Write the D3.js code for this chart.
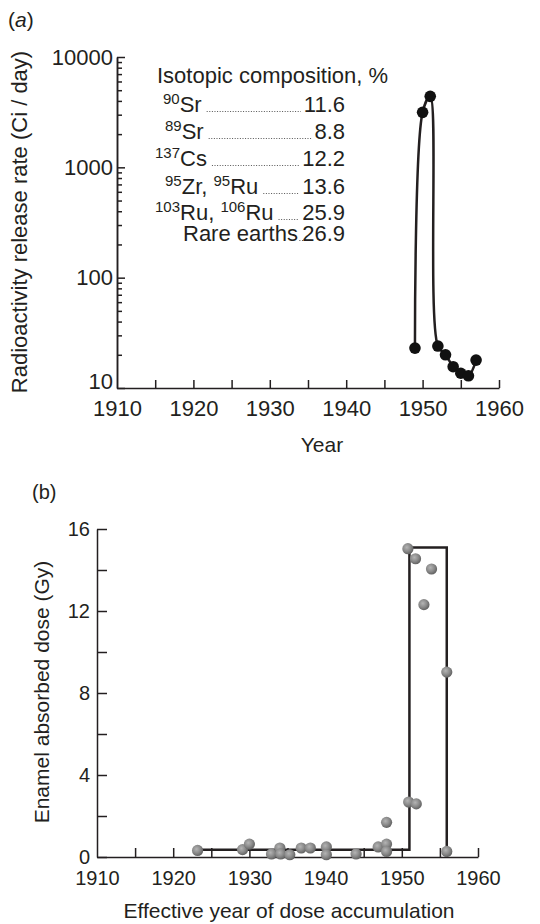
<!DOCTYPE html>
<html>
<head>
<meta charset="utf-8">
<script src="https://cdn.jsdelivr.net/npm/d3@7"></script>
<style>
  html, body { margin: 0; padding: 0; background: #fff; }
  svg { display: block; font-family: "Liberation Sans", Arial, Helvetica, sans-serif; }
  .axis path, .axis line { stroke: #231f20; stroke-width: 1.5px; }
  .axis text { fill: #231f20; }
</style>
</head>
<body>
<svg id="chart" width="540" height="924"></svg>
<script>
// ---- panel (a): release rate, Ci/day ----
const releaseYears = [1949, 1950, 1951, 1952, 1953, 1954, 1955, 1956, 1957];
const releaseRates = [23, 3150, 4400, 24, 20, 15.6, 13.6, 12.9, 17.9];
const logTicks = [10, 100, 1000, 10000];
const yearTicks = [1910, 1920, 1930, 1940, 1950, 1960];

// isotopic composition table, {..} = superscript
const isotopeLabels = ["{90}Sr", "{89}Sr", "{137}Cs", "{95}Zr, {95}Ru", "{103}Ru, {106}Ru", "Rare earths"];
const isotopeShares = [11.6, 8.8, 12.2, 13.6, 25.9, 26.9];

// ---- panel (b): enamel dose, Gy ----
const doseYears = [1923.2, 1929.1, 1930.0, 1932.9, 1934.0, 1934.1, 1935.3, 1936.8, 1938.0,
                   1940.1, 1940.1, 1944.0, 1946.9, 1948.0, 1948.0, 1948.0,
                   1950.9, 1951.9, 1950.8, 1951.8, 1952.9, 1953.9, 1955.9, 1955.9];
const doseValues = [0.32, 0.36, 0.63, 0.15, 0.44, 0.15, 0.11, 0.44, 0.44,
                    0.49, 0.11, 0.15, 0.49, 0.63, 0.27, 1.69,
                    2.68, 2.59, 15.04, 14.55, 12.31, 14.05, 9.02, 0.27];
const stepYears = [1923.2, 1951, 1951, 1955.9, 1955.9];
const stepValues = [0.35, 0.35, 15.1, 15.1, 0];
const doseTicks = [0, 4, 8, 12, 16];

const ink = "#231f20";
const svg = d3.select("#chart");

// ================= panel (a) =================
const xa = d3.scaleLinear().domain([1910, 1960]).range([117, 499]);
const ya = d3.scaleLog().domain([10, 10000]).range([388, 57]);

svg.append("text").attr("x", 8).attr("y", 27).attr("font-size", 21).attr("fill", ink)
  .html('(<tspan font-style="italic">a</tspan>)');

// minor log ticks
const minorLog = [];
[10, 100, 1000].forEach(d => { for (let k = 2; k <= 9; k++) minorLog.push(d * k); });

svg.append("g").attr("class", "axis").attr("transform", `translate(${xa(1910)},0)`)
  .call(d3.axisLeft(ya).tickValues(minorLog).tickSize(-5).tickSizeOuter(0).tickFormat(""));
svg.append("g").attr("class", "axis").attr("transform", `translate(${xa(1910)},0)`)
  .call(d3.axisLeft(ya).tickValues(logTicks).tickSize(-8).tickSizeOuter(0).tickPadding(4)
    .tickFormat(d3.format("d")))
  .call(g => g.selectAll("text").attr("font-size", 22).attr("font-family", null))
  .call(g => g.selectAll(".tick").filter(d => d === 10).select("text").attr("dy", "0.02em"));

svg.append("g").attr("class", "axis").attr("transform", `translate(0,${ya(10)})`)
  .call(d3.axisBottom(xa).tickValues(d3.range(1915, 1961, 5)).tickSize(-8).tickSizeOuter(0).tickFormat(""));
svg.append("g").attr("class", "axis").attr("transform", `translate(0,${ya(10)})`)
  .call(d3.axisBottom(xa).tickValues(yearTicks).tickSize(0).tickSizeOuter(0).tickPadding(12)
    .tickFormat(d3.format("d")))
  .call(g => g.select(".domain").remove())
  .call(g => g.selectAll("text").attr("font-size", 22).attr("font-family", null));

svg.append("text").attr("transform", "translate(27,222) rotate(-90)")
  .attr("text-anchor", "middle").attr("font-size", 22).attr("fill", ink)
  .text("Radioactivity release rate (Ci / day)");
svg.append("text").attr("x", 322).attr("y", 452).attr("text-anchor", "middle")
  .attr("font-size", 21).attr("fill", ink).text("Year");

// composition table
svg.append("text").attr("x", 157).attr("y", 83).attr("font-size", 22).attr("fill", ink)
  .text("Isotopic composition, %");
const rowY = [112, 139, 166, 194, 220, 241];
const rowX = [163, 165, 155, 165, 155, 183];
const valueRight = 345;
isotopeLabels.forEach((lab, i) => {
  const t = svg.append("text").attr("x", rowX[i]).attr("y", rowY[i])
    .attr("font-size", 22).attr("fill", ink);
  let raised = false;
  lab.split(/(\{[^}]+\})/).filter(s => s.length).forEach(part => {
    if (part[0] === "{") {
      t.append("tspan").attr("font-size", 15).attr("dy", -8).text(part.slice(1, -1));
      raised = true;
    } else {
      t.append("tspan").attr("dy", raised ? 8 : 0).text(part);
      raised = false;
    }
  });
  const labelEnd = rowX[i] + t.node().getComputedTextLength();
  const v = svg.append("text").attr("x", valueRight).attr("y", rowY[i])
    .attr("text-anchor", "end").attr("font-size", 22).attr("fill", ink)
    .text(isotopeShares[i].toFixed(1));
  const valueStart = valueRight - v.node().getComputedTextLength();
  svg.append("line").attr("x1", labelEnd + 5).attr("x2", valueStart - 3)
    .attr("y1", rowY[i] - 0.5).attr("y2", rowY[i] - 0.5)
    .attr("stroke", "#555").attr("stroke-width", 1).attr("stroke-dasharray", "1,1.6");
});

// release curve
const releaseLine = d3.line()
  .x((d, i) => xa(releaseYears[i]))
  .y(d => ya(d))
  .curve(d3.curveCatmullRom.alpha(0.5));
svg.append("path").datum(releaseRates).attr("d", releaseLine)
  .attr("fill", "none").attr("stroke", ink).attr("stroke-width", 2.5);
svg.append("g").selectAll("circle").data(releaseRates).join("circle")
  .attr("cx", (d, i) => xa(releaseYears[i])).attr("cy", d => ya(d))
  .attr("r", 5.8).attr("fill", "#111");

// ================= panel (b) =================
const xb = d3.scaleLinear().domain([1910, 1960]).range([97, 478]);
const yb = d3.scaleLinear().domain([0, 16]).range([857, 529]);

svg.append("text").attr("x", 32).attr("y", 499).attr("font-size", 20).attr("fill", ink).text("(b)");

svg.append("g").attr("class", "axis").attr("transform", `translate(${xb(1910)},0)`)
  .call(d3.axisLeft(yb).tickValues(d3.range(0, 17, 2)).tickSize(-10).tickSizeOuter(0)
    .tickPadding(7).tickFormat(d => doseTicks.includes(d) ? d : ""))
  .call(g => g.selectAll("text").attr("font-size", 20).attr("font-family", null));

svg.append("g").attr("class", "axis").attr("transform", `translate(0,${yb(0)})`)
  .call(d3.axisBottom(xb).tickValues(d3.range(1915, 1961, 5)).tickSize(-9).tickSizeOuter(0).tickFormat(""));
svg.append("g").attr("class", "axis").attr("transform", `translate(0,${yb(0)})`)
  .call(d3.axisBottom(xb).tickValues(yearTicks).tickSize(0).tickSizeOuter(0).tickPadding(14)
    .tickFormat(d3.format("d")))
  .call(g => g.select(".domain").remove())
  .call(g => g.selectAll("text").attr("font-size", 20).attr("font-family", null));

svg.append("text").attr("transform", "translate(49,692) rotate(-90)")
  .attr("text-anchor", "middle").attr("font-size", 21).attr("fill", ink)
  .text("Enamel absorbed dose (Gy)");
svg.append("text").attr("x", 289).attr("y", 918).attr("text-anchor", "middle")
  .attr("font-size", 21).attr("fill", ink).text("Effective year of dose accumulation");

const stepLine = d3.line().x((d, i) => xb(stepYears[i])).y(d => yb(d));
svg.append("path").datum(stepValues).attr("d", stepLine)
  .attr("fill", "none").attr("stroke", ink).attr("stroke-width", 2.5);

const grad = svg.append("defs").append("radialGradient").attr("id", "ball")
  .attr("cx", "40%").attr("cy", "38%").attr("r", "65%");
grad.append("stop").attr("offset", "0%").attr("stop-color", "#b4b4b4");
grad.append("stop").attr("offset", "55%").attr("stop-color", "#8a8a8a");
grad.append("stop").attr("offset", "100%").attr("stop-color", "#5e5e5e");

svg.append("g").selectAll("circle").data(doseValues).join("circle")
  .attr("cx", (d, i) => xb(doseYears[i])).attr("cy", d => yb(d))
  .attr("r", 5.6).attr("fill", "url(#ball)");
</script>
</body>
</html>
